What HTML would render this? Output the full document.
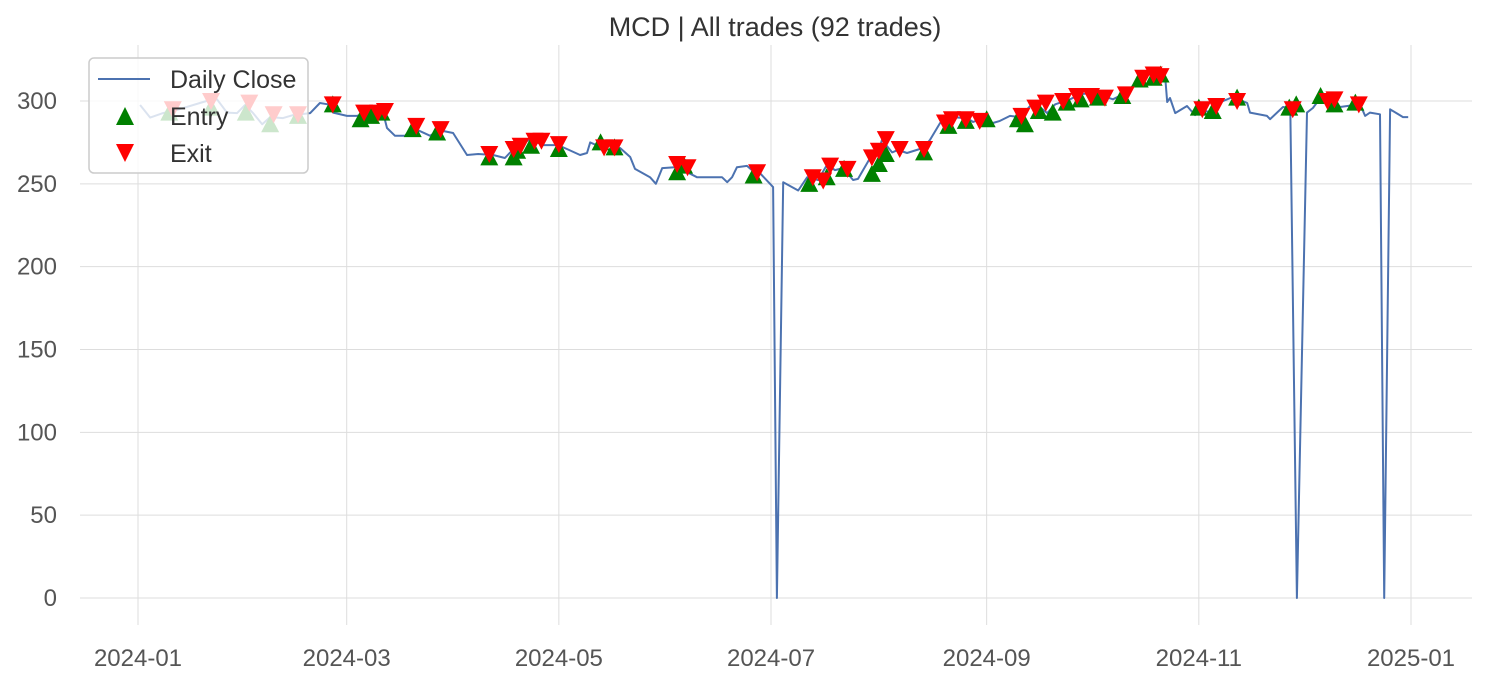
<!DOCTYPE html>
<html><head><meta charset="utf-8"><style>
body{margin:0;background:#fff}
svg{display:block;font-family:"Liberation Sans","DejaVu Sans",sans-serif}
</style></head><body>
<svg id="chart" width="1486" height="682" viewBox="0 0 1486 682" xmlns="http://www.w3.org/2000/svg">
<text x="775" y="36" font-size="27" fill="#333" text-anchor="middle">MCD | All trades (92 trades)</text>
<g id="grid"></g><g id="yticks"></g><g id="xticks"></g><g id="series"></g><g id="markers"></g>
<g>
<rect x="89" y="58" width="219" height="115" rx="5" fill="#fff" fill-opacity="0.8" stroke="#ccc" stroke-width="1.5"/>
<line x1="98" y1="79" x2="150" y2="79" stroke="#4c72b0" stroke-width="2"/>
<text x="170" y="88" font-size="25" fill="#333">Daily Close</text>
<polygon points="125,107 134,125 116,125" fill="#008000"/>
<text x="170" y="125" font-size="25" fill="#333">Entry</text>
<polygon points="116,144 134,144 125,162" fill="#ff0000"/>
<text x="170" y="162" font-size="25" fill="#333">Exit</text>
</g>
</svg>
<script>
const priceDays=[0.6,3.5,7.2,11.2,17.8,20.7,22.7,25.6,28.5,30.8,33.1,35.7,38,41.7,44.6,49.5,52.3,54.6,56.1,60.1,63,66.7,70.2,71.6,73.9,76.8,78.8,84,86.3,90.6,94.6,97.8,102.1,105.5,107,112.7,116.4,120.8,123.3,127.1,129.1,130,133.7,135.1,138.6,141.5,142.9,147.2,148.9,150.7,154.4,155.8,157.9,160.7,163.9,167.9,169.4,170.8,172.2,175.1,176.5,178.8,182.6,183.7,185.5,189.8,192.4,195.5,198.1,200.4,202.7,205.6,207,210.5,212.5,213.9,216.8,218.5,221.1,225.7,227.7,230.6,232,233.5,238.4,240.1,242.1,245.8,247.8,250.7,253.6,256.5,259.3,261.4,263.7,268,270.8,273.7,276.6,280.3,284.4,288.1,291,295.3,295.9,296.7,298.2,301.6,303.9,306.2,308.2,310.2,312,314.8,318.9,319.7,324.6,325.5,329.2,331.3,333.2,336.1,337.8,339.3,343.6,345.6,351.4,352.8,354.2,357.1,358.3,360,363.7,365.2];
const priceVals=[297.6,290,292.7,294.6,298.8,300.6,301,293,292.7,297.6,292.7,286,290.3,289.7,291.5,292.7,298.8,298,293,291,291,293,295,283.7,279,279,284,279,282.5,280.7,267.4,268,267.4,265.6,269,277,273.4,273.4,271,267.4,268.6,275,271.6,274.6,271.6,266.2,259,254,250,259.5,260,262.6,257,254,254,254,251,254,260,260.8,258.3,256.5,248,0,251,246,254,252.3,261.4,258.3,259.5,252.3,253,265.6,267.4,276.5,269,270.4,268.6,271.6,276.5,286.7,286.7,290.3,289.7,287.3,289,286.7,288,291,290.3,297,296.4,292.7,298,301,304,304.8,303.6,301,305.4,313.9,317,315,299.4,301.8,292.7,297,291.5,294.6,293,298.8,300,302.4,298.8,293,291,289,296.4,295.8,0,293,295.8,300,301.8,296.4,298,291,293,292,0,295,290.3,290.3];
const entryDays=[9,21,31,38,46,56,64,67,70,79,86,101,108,109,113,121,133,137,155,157,177,193,198,203,211,213,215,226,233,238,244,253,255,259,263,267,271,276,283,288,292,294,305,309,316,331,333,340,344,350];
const entryVals=[293,296,293,286,291,298,289,291,293,283,281,266,266,270,273,271,275,272,257,261,255,250,254,259,256,262,268,269,285,288,289,289,286,294,293,299,301,302,303,313,314,316,296,294,302,296,298,303,298,299];
const exitDays=[10,21,32,39,46,56,65,69,71,80,87,101,108,110,114,116,121,134,137,155,158,178,194,197,199,204,211,213,215,219,226,232,234,238,242,254,258,261,266,270,274,278,284,289,292,294,306,310,316,332,342,344,351];
const exitVals=[295,300,299,292,292,298,293,293,294,285,283,268,271,273,276,276,274,272,272,262,260,257,254,252,261,259,266,270,277,271,271,287,289,289,288,291,296,299,300,303,303,302,304,314,316,315,295,297,300,295,300,301,298];
const yTicks=[0,50,100,150,200,250,300];
const xTickLabels=["2024-01","2024-03","2024-05","2024-07","2024-09","2024-11","2025-01"];
const xTickDays=[0,60,121,182,244,305,366];

const NS="http://www.w3.org/2000/svg";
const X=d=>138+d*(1411-138)/366;
const Y=v=>598-v*(598-101)/300;
function mk(tag,attrs,parent){const e=document.createElementNS(NS,tag);for(const k in attrs)e.setAttribute(k,attrs[k]);parent.appendChild(e);return e;}
const grid=document.getElementById('grid'),yt=document.getElementById('yticks'),xt=document.getElementById('xticks');
yTicks.forEach(v=>{
  const l=mk('line',{x1:80,x2:1472,y1:Y(v),y2:Y(v),stroke:'#dddddd','stroke-width':1},grid);
  
  
  const t=mk('text',{x:57,y:Y(v)+8,'font-size':24,fill:'#555','text-anchor':'end'},yt);
  
  
  t.textContent=v;
});
xTickDays.forEach((d,i)=>{
  const l=mk('line',{x1:X(d),x2:X(d),y1:45,y2:625,stroke:'#dddddd','stroke-width':1},grid);
  
  
  const t=mk('text',{x:X(d),y:666,'font-size':24,fill:'#555','text-anchor':'middle'},xt);
  
  
  t.textContent=xTickLabels[i];
});
const pts=priceDays.map((d,i)=>X(d).toFixed(1)+','+Y(priceVals[i]).toFixed(1)).join(' ');
const pl=mk('polyline',{points:pts,fill:'none',stroke:'#4c72b0','stroke-width':2,'stroke-linejoin':'round'},document.getElementById('series'));


const mg=document.getElementById('markers');
entryDays.forEach((d,i)=>{
  const x=X(d),y=Y(entryVals[i]);
  const p=mk('polygon',{points:`${x},${y-9} ${x+9},${y+8} ${x-9},${y+8}`,fill:'#008000'},mg);
  
  
});
exitDays.forEach((d,i)=>{
  const x=X(d),y=Y(exitVals[i]);
  const p=mk('polygon',{points:`${x-9},${y-8} ${x+9},${y-8} ${x},${y+9}`,fill:'#ff0000'},mg);
  
  
});
</script>
</body></html>
